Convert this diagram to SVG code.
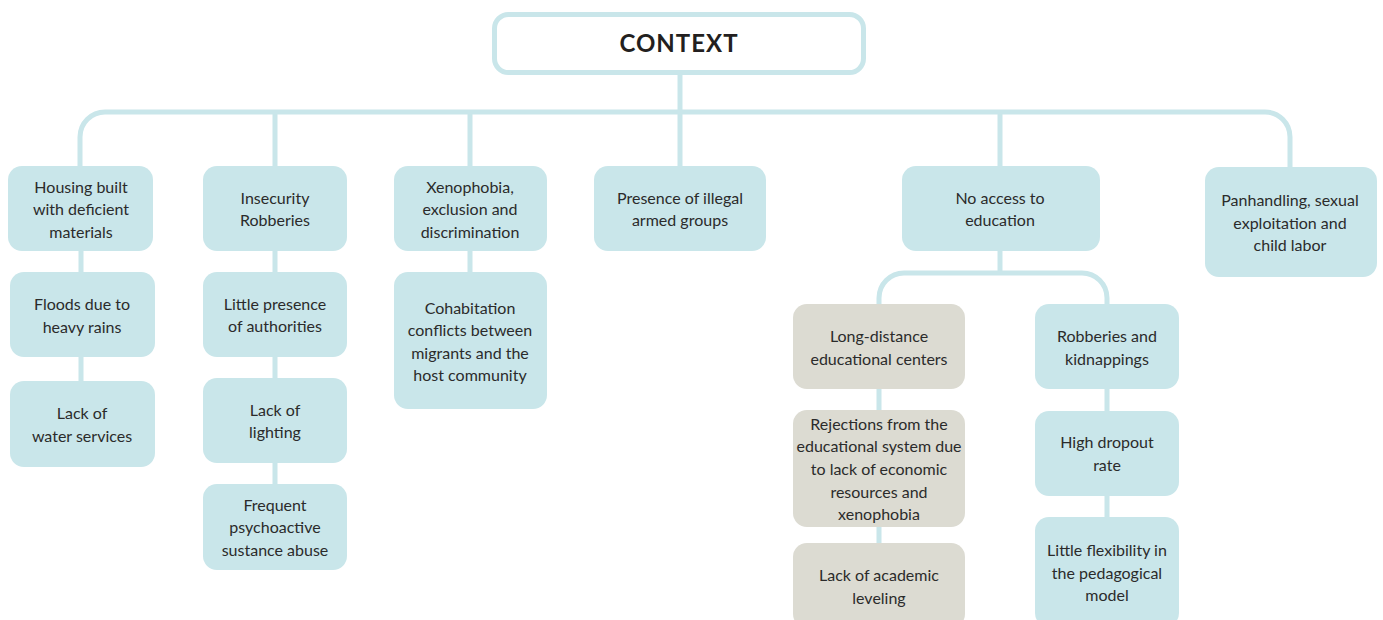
<svg xmlns="http://www.w3.org/2000/svg" width="1383" height="620" viewBox="0 0 1383 620">
<style>
.c{fill:none;stroke:#c9e6ea;stroke-width:5}
.b{fill:#c9e6ea}
.g{fill:#dcdbd2}
text{font-family:Lato,"Open Sans","Liberation Sans",sans-serif;font-size:16px;fill:#2b2b2b;text-anchor:middle}
.t{font-weight:bold;font-size:24px;fill:#231f20;letter-spacing:1px}
</style>
<rect width="1383" height="620" fill="#fff"/>
<g id="connectors">
<path class="c" d="M80,168 V137 A25,25 0 0 1 105,112 H1265 A25,25 0 0 1 1290,137 V168"/>
<path class="c" d="M680,74 V112"/>
<path class="c" d="M275,112 V168 M470,112 V168 M680,112 V168 M1000,112 V168"/>
<path class="c" d="M81,250 V384 M275,250 V486 M470,250 V274"/>
<path class="c" d="M1000,250 V273"/>
<path class="c" d="M879,306 V298 A25,25 0 0 1 904,273 H1082 A25,25 0 0 1 1107,298 V306"/>
<path class="c" d="M879,388 V545 M1107,388 V519"/>
</g>
<g id="context">
<rect x="494.5" y="14.5" width="369" height="58" rx="14" fill="#fff" stroke="#c9e6ea" stroke-width="5"/>
<text class="t" x="679" y="52">CONTEXT</text>
</g>
<g id="housing"><rect class="b" x="8" y="166" width="145" height="85" rx="14"/>
<text x="81" y="193">Housing built</text><text x="81" y="215">with deficient</text><text x="81" y="238">materials</text></g>
<g id="floods"><rect class="b" x="10" y="272" width="145" height="85" rx="14"/>
<text x="82" y="310">Floods due to</text><text x="82" y="333">heavy rains</text></g>
<g id="water"><rect class="b" x="10" y="381" width="145" height="86" rx="14"/>
<text x="82" y="419">Lack of</text><text x="82" y="442">water services</text></g>
<g id="insecurity"><rect class="b" x="203" y="166" width="144" height="85" rx="14"/>
<text x="275" y="204">Insecurity</text><text x="275" y="226">Robberies</text></g>
<g id="authorities"><rect class="b" x="203" y="272" width="144" height="85" rx="14"/>
<text x="275" y="310">Little presence</text><text x="275" y="332">of authorities</text></g>
<g id="lighting"><rect class="b" x="203" y="378" width="144" height="85" rx="14"/>
<text x="275" y="416">Lack of</text><text x="275" y="438">lighting</text></g>
<g id="abuse"><rect class="b" x="203" y="484" width="144" height="86" rx="14"/>
<text x="275" y="511">Frequent</text><text x="275" y="533">psychoactive</text><text x="275" y="556">sustance abuse</text></g>
<g id="xenophobia"><rect class="b" x="394" y="166" width="153" height="85" rx="14"/>
<text x="470" y="193">Xenophobia,</text><text x="470" y="215">exclusion and</text><text x="470" y="238">discrimination</text></g>
<g id="cohabitation"><rect class="b" x="394" y="272" width="153" height="137" rx="14"/>
<text x="470" y="314">Cohabitation</text><text x="470" y="336">conflicts between</text><text x="470" y="359">migrants and the</text><text x="470" y="381">host community</text></g>
<g id="armed"><rect class="b" x="594" y="166" width="172" height="85" rx="14"/>
<text x="680" y="204">Presence of illegal</text><text x="680" y="226">armed groups</text></g>
<g id="education"><rect class="b" x="902" y="166" width="198" height="85" rx="14"/>
<text x="1000" y="204">No access to</text><text x="1000" y="226">education</text></g>
<g id="panhandling"><rect class="b" x="1205" y="167" width="172" height="110" rx="14"/>
<text x="1290" y="206">Panhandling, sexual</text><text x="1290" y="229">exploitation and</text><text x="1290" y="251">child labor</text></g>
<g id="longdistance"><rect class="g" x="793" y="304" width="172" height="85" rx="14"/>
<text x="879" y="342">Long-distance</text><text x="879" y="365">educational centers</text></g>
<g id="rejections"><rect class="g" x="793" y="410" width="172" height="117" rx="14"/>
<text x="879" y="430">Rejections from the</text><text x="879" y="452">educational system due</text><text x="879" y="475">to lack of economic</text><text x="879" y="498">resources and</text><text x="879" y="520">xenophobia</text></g>
<g id="leveling"><rect class="g" x="793" y="543" width="172" height="85" rx="14"/>
<text x="879" y="581">Lack of academic</text><text x="879" y="604">leveling</text></g>
<g id="robberies"><rect class="b" x="1035" y="304" width="144" height="85" rx="14"/>
<text x="1107" y="342">Robberies and</text><text x="1107" y="365">kidnappings</text></g>
<g id="dropout"><rect class="b" x="1035" y="411" width="144" height="85" rx="14"/>
<text x="1107" y="448">High dropout</text><text x="1107" y="471">rate</text></g>
<g id="flexibility"><rect class="b" x="1035" y="517" width="144" height="110" rx="14"/>
<text x="1107" y="556">Little flexibility in</text><text x="1107" y="579">the pedagogical</text><text x="1107" y="601">model</text></g>
</svg>
